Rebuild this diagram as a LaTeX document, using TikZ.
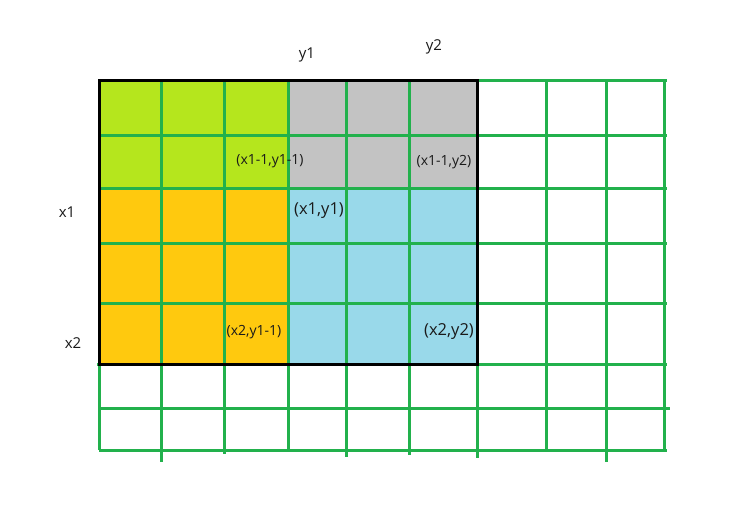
\documentclass[tikz,border=0pt]{standalone}
\usepackage{fontspec}
\setmainfont{Open Sans}
\definecolor{gridgreen}{HTML}{22B14C}
\definecolor{limeA}{HTML}{B5E61D}
\definecolor{greyA}{HTML}{C3C3C3}
\definecolor{orangeA}{HTML}{FFC90E}
\definecolor{blueA}{HTML}{99D9EA}
\definecolor{txt}{HTML}{1A1A1A}
\begin{document}
\begin{tikzpicture}[x=1pt,y=-1pt,
  gline/.style={draw=gridgreen,line width=3pt},
  bigtxt/.style={text=txt,font=\fontsize{15}{18}\selectfont,inner sep=0pt},
  midtxt/.style={text=txt,font=\fontsize{16.5}{20}\selectfont,inner sep=0pt},
  smalltxt/.style={text=txt,font=\fontsize{14}{17}\selectfont,inner sep=0pt}]
\useasboundingbox (0,0) rectangle (732,508);
\fill[white] (0,0) rectangle (732,508);
% coloured blocks
\fill[limeA] (99,81) rectangle (289,189);
\fill[greyA] (289,81) rectangle (477,189);
\fill[orangeA] (99,189) rectangle (287,364);
\fill[blueA] (287,189) rectangle (477,364);
% horizontal grid lines
\foreach \yy in {81,136,189,244,304,450}
  \draw[gline] (99,\yy) -- (667,\yy);
\draw[gline] (97,364) -- (667,364);
\draw[gline] (99,408) -- (670,408);
% vertical grid lines
\foreach \xx/\yb in {99/450,161/462,224/454,288/450,346/457,409/455,477/458,546/450,606/462,664/450}
  \draw[gline] (\xx,81) -- (\xx,\yb);
% black frame
\draw[black,line width=3pt] (99,81) rectangle (477,364);
% labels
\node[bigtxt] (ly1) at (307,55) {y1};
\node[bigtxt] (ly2) at (434,47) {y2};
\node[bigtxt] (lx1) at (67,212) {x1};
\node[bigtxt] (lx2) at (73,343) {x2};
\node[smalltxt] (a) at (270,161) {(x1-1,y1-1)};
\node[smalltxt] (b) at (444,162) {(x1-1,y2)};
\node[midtxt] (c) at (319,211) {(x1,y1)};
\node[smalltxt] (d) at (254,332) {(x2,y1-1)};
\node[midtxt] (e) at (449,332) {(x2,y2)};
\end{tikzpicture}
\end{document}
